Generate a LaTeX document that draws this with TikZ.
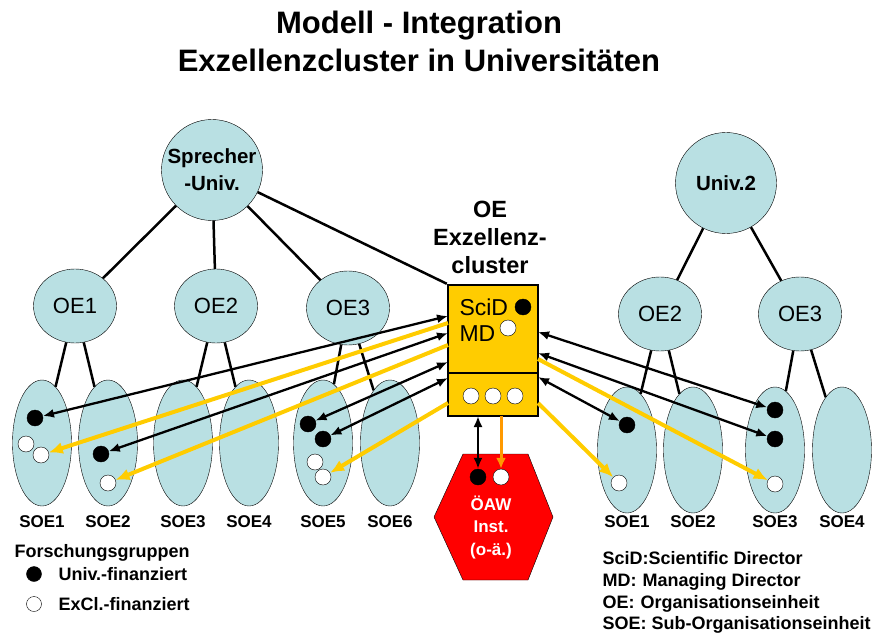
\documentclass[tikz,border=0pt]{standalone}
\usepackage{fontspec}
\setmainfont{Liberation Sans}
\usetikzlibrary{arrows.meta}
\usetikzlibrary{shapes.geometric}
\definecolor{hellblau}{RGB}{185,224,227}
\definecolor{clustergelb}{RGB}{255,204,0}
\definecolor{pfeilorange}{RGB}{255,153,0}

\tikzset{
    univ/.style={circle, draw, thin, fill=hellblau, minimum size=101pt, inner sep=0pt, align=center, font=\bfseries\fontsize{20.5}{27}\selectfont},
    oe/.style={ellipse, draw, thin, fill=hellblau, minimum width=83pt, minimum height=74pt, inner sep=0pt, font=\fontsize{22}{26}\selectfont},
    soe/.style={ellipse, draw, thin, fill=hellblau, minimum width=59pt, minimum height=126pt},
    kasten/.style={draw, line width=2.5pt, fill=clustergelb, minimum width=90pt, inner sep=0pt},
    sw/.style={circle, draw, fill=black, minimum size=16pt, inner sep=0pt},
    ws/.style={circle, draw, fill=white, minimum size=16pt, inner sep=0pt},
    baum/.style={line width=2.5pt},
    pfeil/.style={line width=2.3pt, {Latex[length=11pt,width=9pt]}-{Latex[length=11pt,width=9pt]}},
    gpfeil/.style={line width=4pt, clustergelb, -{Latex[length=14pt,width=12pt]}},
    lbl/.style={font=\bfseries\fontsize{17}{20}\selectfont},
    leg/.style={anchor=west, font=\bfseries\fontsize{18}{21}\selectfont, text height=13pt, text depth=0pt},
}

\begin{document}
\begin{tikzpicture}[x=1pt,y=-1pt]
    \useasboundingbox (0,0) rectangle (874,636);

    % Titel
    \node[font=\bfseries\fontsize{31}{38}\selectfont, align=center] (titel) at (419,41) {Modell - Integration\\Exzellenzcluster in Universitäten};

    % Universitaeten und Organisationseinheiten
    \node[univ] (spr) at (212,170) {Sprecher\\-Univ.};
    \node[univ] (u2) at (726,183) {Univ.2};
    \foreach \n/\x/\y/\t in {oe1/75/306/OE1, oe2/216/306/OE2, oe3/348/308/OE3, roe2/660/314/OE2, roe3/800/314/OE3}
        \node[oe] (\n) at (\x,\y) {\t};

    % Sub-Organisationseinheiten mit Beschriftung
    \foreach \n/\x/\y/\t in {s1/42/443/SOE1, s2/108/443/SOE2, s3/183/443/SOE3, s4/249/443/SOE4, s5/323/443/SOE5, s6/390/443/SOE6, rs1/627/450/SOE1, rs2/693/450/SOE2, rs3/775/450/SOE3, rs4/842/450/SOE4} {
        \node[soe] (\n) at (\x,\y) {};
        \node[lbl] (\n l) at (\x,522) {\t};
    }

    % Baumlinien
    \foreach \a/\b in {spr/oe1, spr/oe2, spr/oe3, oe1/s1, oe1/s2, oe2/s3, oe2/s4, oe3/s5, oe3/s6, u2/roe2, u2/roe3, roe2/rs1, roe2/rs2, roe3/rs3, roe3/rs4}
        \draw[baum] (\a) -- (\b);

    % OE Exzellenzcluster
    \node[kasten, minimum height=88pt] (ex) at (493,329) {};
    \node[kasten, minimum height=43pt] (exu) at (493,394.5) {};
    \node[font=\bfseries\fontsize{23.5}{28}\selectfont, align=center] (exl) at (490,237) {OE\\Exzellenz-\\cluster};
    \draw[baum] (spr) -- (ex.north west);
    \node[anchor=west, font=\fontsize{23}{27}\selectfont] (scid) at (456,307) {SciD};
    \node[anchor=west, font=\fontsize{23}{27}\selectfont] (md) at (456,334) {MD};
    \node[sw] (scidp) at (523,307) {};
    \node[ws] (mdp) at (508,328) {};
    \foreach \n/\x in {k1/471, k2/493, k3/515}
        \node[ws] (\n) at (\x,396) {};

    % OeAW Institut
    \filldraw[fill=red, draw=black, thin] (463,454) -- (528,454) -- (553,517) -- (528,580) -- (463,580) -- (434,517) -- cycle;
    \node[font=\bfseries\fontsize{17}{22.5}\selectfont, text=white, align=center] (oeaw) at (491,527) {ÖAW\\Inst.\\(o-ä.)};
    \node[sw] (hs) at (478,477) {};
    \node[ws] (hw) at (501,477) {};

    % Forschungsgruppen in den SOE
    \foreach \n/\x/\y in {b1/35/418, b2/101/454, b5a/308/424, b5b/323/439, rb1/627/425, rb3a/775/410, rb3b/775/439}
        \node[sw] (\n) at (\x,\y) {};
    \foreach \n/\x/\y in {w1a/26/444, w1b/41/455, w2/108/483, w5a/315/462, w5b/323/477, rw1/619/483, rw3/775/484}
        \node[ws] (\n) at (\x,\y) {};

    % Anschlusspunkte am Kasten
    \foreach \n/\y in {la/316, lb/323, lc/333, ld/345, le/362, lf/378, lg/403}
        \coordinate (\n) at (448,\y);
    \foreach \n/\y in {ra/332, rb/353, rc/359, rd/377, re/403}
        \coordinate (\n) at (538,\y);
    \coordinate (ua) at (478,416);
    \coordinate (ub) at (501,416);

    % Pfeile
    \foreach \a/\b in {la/b1, lc/b2, le/b5a, lf/b5b, ra/rb3a, rb/rb3b, rd/rb1, ua/hs}
        \draw[pfeil] (\a) -- (\b);
    \foreach \a/\b in {lb/w1b, ld/w2, lg/w5b, rc/rw3, re/rw1}
        \draw[gpfeil] (\a) -- (\b);
    \draw[gpfeil, pfeilorange, line width=3pt, -{Latex[length=11pt,width=10pt]}] (ub) -- (hw);

    % Legende
    \node[leg] (fg) at (11,551) {Forschungsgruppen};
    \node[sw, minimum size=15pt] (lsw) at (34,574) {};
    \node[leg] (lswt) at (55,574) {Univ.-finanziert};
    \node[ws, minimum size=15pt] (lws) at (34,604) {};
    \node[leg] (lwst) at (55,604) {ExCl.-finanziert};

    % Abkuerzungen
    \node[leg] (d1) at (599,558) {SciD:Scientific Director};
    \node[leg] (d2) at (599,580) {MD:\hspace{6pt}Managing Director};
    \node[leg] (d3) at (599,602) {OE:\hspace{6pt}Organisationseinheit};
    \node[leg] (d4) at (599,623) {SOE: Sub-Organisationseinheit};
\end{tikzpicture}
\end{document}
